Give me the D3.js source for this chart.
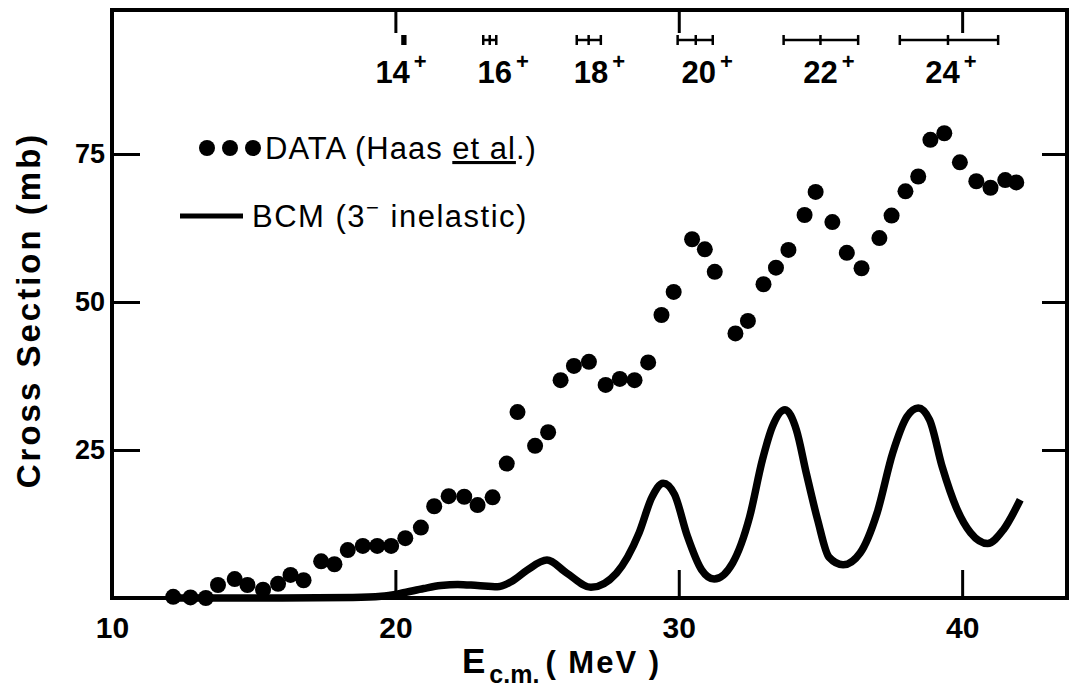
<!DOCTYPE html>
<html>
<head>
<meta charset="utf-8">
<script src="https://cdn.jsdelivr.net/npm/d3@7"></script>
<style>
  body { margin: 0; background: #fff; }
  svg { display: block; font-family: "Liberation Sans", Arial, sans-serif; }
</style>
</head>
<body>
<script>
// measured cross section (Haas et al.), E in MeV, sigma in mb
const dataE = [12.16, 12.77, 13.31, 13.74, 14.33, 14.78, 15.33, 15.86, 16.3, 16.76,
  17.38, 17.85, 18.32, 18.85, 19.36, 19.85, 20.35, 20.9, 21.37, 21.88,
  22.43, 22.9, 23.43, 23.93, 24.31, 24.93, 25.39, 25.83, 26.3, 26.83,
  27.42, 27.92, 28.44, 28.92, 29.39, 29.82, 30.47, 30.92, 31.27, 32.0,
  32.44, 32.99, 33.43, 33.87, 34.44, 34.83, 35.42, 35.93, 36.45, 37.08,
  37.51, 38.0, 38.45, 38.88, 39.37, 39.92, 40.5, 41.0, 41.52, 41.91];
const dataSigma = [0.2, 0.1, 0.0, 2.2, 3.2, 2.2, 1.4, 2.4, 3.9, 3.0,
  6.2, 5.7, 8.1, 8.8, 8.8, 8.8, 10.1, 11.9, 15.5, 17.2,
  17.1, 15.7, 17.0, 22.7, 31.4, 25.7, 28.0, 36.8, 39.2, 39.9,
  36.0, 37.0, 36.8, 39.8, 47.8, 51.7, 60.6, 58.9, 55.1, 44.7,
  46.8, 53.0, 55.8, 58.8, 64.7, 68.6, 63.5, 58.3, 55.7, 60.8,
  64.6, 68.7, 71.2, 77.4, 78.5, 73.6, 70.4, 69.3, 70.6, 70.2];

// BCM (3- inelastic) calculation
const bcmE = [12, 16, 18.5, 19.5, 20.2, 21.0, 21.6, 22.2, 22.9, 23.6, 24.1, 24.65,
  25.35, 26.05, 26.9, 27.8, 28.6, 29.05, 29.45, 29.85, 30.3, 30.8, 31.25, 31.9,
  32.5, 32.95, 33.3, 33.75, 34.15, 34.5, 34.9, 35.3, 35.8, 36.4, 37.0, 37.55,
  38.05, 38.45, 38.85, 39.3, 39.8, 40.3, 40.9, 41.45, 42.05];
const bcmSigma = [0, 0, 0.1, 0.3, 0.8, 1.6, 2.1, 2.3, 2.1, 1.9, 2.8, 4.7,
  6.4, 4.2, 1.8, 4.2, 11.0, 17.0, 19.4, 17.5, 10.5, 4.8, 3.2, 5.9,
  13.7, 23.3, 28.9, 31.8, 28.4, 21.1, 13.2, 6.9, 5.6, 7.6, 14.4, 24.5,
  30.6, 32.1, 30.1, 22.1, 15.2, 11.0, 9.2, 11.5, 16.6];

// spin windows on top
const spins = ["14", "16", "18", "20", "22", "24"];
const spinLo = [20.25, 23.1, 26.4, 29.96, 33.7, 37.8];
const spinMid = [20.3, 23.33, 26.82, 30.6, 35.0, 39.5];
const spinHi = [20.35, 23.56, 27.25, 31.2, 36.33, 41.27];
const spinLabelE = [20.2, 23.8, 27.2, 31.0, 35.3, 39.6];

const xTicks = [10, 20, 30, 40];
const yTicks = [25, 50, 75];

const W = 1072, H = 690;
const mLeft = 112, mRight = 1067, mTop = 10, mBottom = 598;

const svg = d3.select("body").append("svg")
  .attr("width", W).attr("height", H);

const x = d3.scaleLinear().domain([10, 43.7]).range([mLeft, mRight]);
const y = d3.scaleLinear().domain([0, 100]).range([mBottom, 6]);

// frame
svg.append("rect")
  .attr("x", mLeft).attr("y", mTop)
  .attr("width", mRight - mLeft).attr("height", mBottom - mTop)
  .attr("fill", "none").attr("stroke", "#000").attr("stroke-width", 4);

const styleAxis = g => {
  g.select(".domain").remove();
  g.selectAll(".tick line").attr("stroke", "#000").attr("stroke-width", 3);
  g.selectAll(".tick text").attr("fill", "#000")
    .attr("font-family", "Liberation Sans, Arial, sans-serif");
};

svg.append("g")
  .attr("transform", `translate(0,${mBottom})`)
  .call(d3.axisBottom(x).tickValues(xTicks).tickSize(-28).tickPadding(19).tickFormat(d3.format("d")))
  .call(styleAxis)
  .call(g => g.selectAll(".tick text").attr("font-size", 30).attr("font-weight", "bold"));

svg.append("g")
  .attr("transform", `translate(0,${mTop})`)
  .call(d3.axisTop(x).tickValues(xTicks.slice(1)).tickSize(-23).tickFormat(""))
  .call(styleAxis);

svg.append("g")
  .attr("transform", `translate(${mLeft},0)`)
  .call(d3.axisLeft(y).tickValues(yTicks).tickSize(-28).tickPadding(7))
  .call(styleAxis)
  .call(g => g.selectAll(".tick text").attr("font-size", 27).attr("font-weight", "bold"));

svg.append("g")
  .attr("transform", `translate(${mRight},0)`)
  .call(d3.axisRight(y).tickValues(yTicks).tickSize(-25).tickFormat(""))
  .call(styleAxis);

// BCM curve
const bcm = bcmE.map((e, i) => [e, bcmSigma[i]]);
svg.append("path")
  .datum(bcm)
  .attr("fill", "none")
  .attr("stroke", "#000")
  .attr("stroke-width", 7.5)
  .attr("d", d3.line().x(d => x(d[0])).y(d => y(d[1])).curve(d3.curveMonotoneX));

// data points
svg.append("g")
  .selectAll("circle")
  .data(dataE.map((e, i) => [e, dataSigma[i]]))
  .join("circle")
  .attr("cx", d => x(d[0]))
  .attr("cy", d => y(d[1]))
  .attr("r", 8)
  .attr("fill", "#000");

// spin windows
const barY = 40;
const sp = svg.append("g").attr("stroke", "#000");
spins.forEach((s, i) => {
  sp.append("line").attr("x1", x(spinLo[i])).attr("x2", x(spinHi[i]))
    .attr("y1", barY).attr("y2", barY).attr("stroke-width", 2.5);
  [spinLo[i], spinMid[i], spinHi[i]].forEach(v => {
    sp.append("line").attr("x1", x(v)).attr("x2", x(v))
      .attr("y1", barY - 5).attr("y2", barY + 5).attr("stroke-width", 2.5);
  });
  const t = svg.append("text")
    .attr("x", x(spinLabelE[i])).attr("y", 83)
    .attr("text-anchor", "middle")
    .attr("font-size", 31).attr("font-weight", "bold");
  t.append("tspan").text(s);
  t.append("tspan").attr("font-size", 22).attr("dy", -14).attr("dx", 4).text("+");
});

// legend
const lg = svg.append("g");
[207, 230, 253].forEach(cx => lg.append("circle").attr("cx", cx).attr("cy", 148).attr("r", 8));
const t1 = lg.append("text").attr("x", 265).attr("y", 159)
  .attr("font-size", 31).attr("letter-spacing", 1);
t1.append("tspan").text("DATA (Haas ");
t1.append("tspan").attr("text-decoration", "underline").text("et al");
t1.append("tspan").text(".)");

lg.append("line").attr("x1", 180).attr("x2", 243).attr("y1", 216).attr("y2", 216)
  .attr("stroke", "#000").attr("stroke-width", 5);
const t2 = lg.append("text").attr("x", 252).attr("y", 227)
  .attr("font-size", 31).attr("letter-spacing", 1.5);
t2.append("tspan").text("BCM (3");
t2.append("tspan").attr("font-size", 22).attr("dy", -12).text("\u2212");
t2.append("tspan").attr("dy", 12).text(" inelastic)");

// axis titles
const xt = svg.append("text").attr("x", 462).attr("y", 673).attr("font-weight", "bold");
xt.append("tspan").attr("font-size", 35).text("E");
xt.append("tspan").attr("font-size", 25).attr("dy", 10).attr("dx", 4).text("c.m.");
xt.append("tspan").attr("font-size", 31).attr("dy", -10).attr("dx", 6)
  .attr("letter-spacing", 2).text("( MeV )");

svg.append("text")
  .attr("transform", "translate(40,310) rotate(-90)")
  .attr("text-anchor", "middle")
  .attr("font-size", 33).attr("font-weight", "bold").attr("letter-spacing", 3)
  .text("Cross Section (mb)");
</script>
</body>
</html>
